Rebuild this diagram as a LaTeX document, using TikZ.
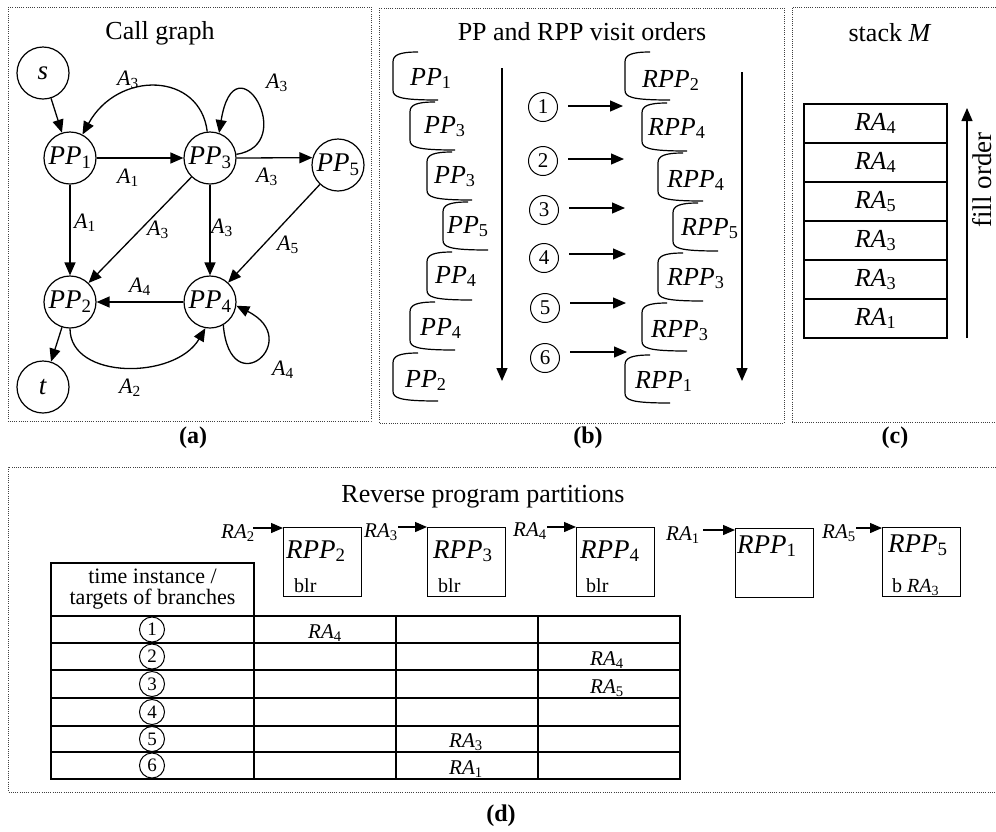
\documentclass[tikz,border=0pt]{standalone}
\usepackage{fontspec}
\setmainfont{Liberation Serif}
\usetikzlibrary{arrows.meta}
\newcommand\isub[2]{\textit{#1}\textsubscript{#2}}
\newcommand\fsz[1]{\fontsize{#1}{#1}\selectfont}
% a left bracket with curled ends, used for the visit orders
\newcommand\brkt[2]{\draw[brk] (#1+25,#2) .. controls (#1+6,#2) and (#1,#2+3) .. (#1,#2+10) -- (#1,#2+38) .. controls (#1,#2+45) and (#1+6,#2+48) .. (#1+45,#2+48);}
\begin{document}
\begin{tikzpicture}[x=1pt,y=-1pt,
  panelframe/.style={line width=0.8pt, dash pattern=on 0.9pt off 1.3pt, black!75},
  vtx/.style={circle, draw, line width=1.2pt, minimum size=52pt, inner sep=0pt, font=\fsz{27}},
  conn/.style={line width=1.3pt, -{Triangle[length=13pt,width=11pt]}},
  sconn/.style={line width=1.3pt, -{Triangle[length=12pt,width=10pt]}},
  elab/.style={font=\fsz{22}, inner sep=0pt},
  ttl/.style={font=\fsz{26}, inner sep=0pt},
  brk/.style={line width=1.2pt},
  blab/.style={font=\fsz{26}, anchor=base west, inner sep=0pt},
  cnum/.style={circle, draw, line width=1pt, minimum size=29pt, inner sep=0pt, font=\fsz{21}},
  tnum/.style={circle, draw, line width=1pt, minimum size=25pt, inner sep=0pt, font=\fsz{19}},
  stk/.style={draw, line width=1.2pt, minimum width=143pt, minimum height=39pt, inner sep=0pt, font=\fsz{26}},
  rpp/.style={draw, line width=1.2pt, minimum width=78pt, minimum height=69pt, inner sep=0pt, anchor=north west},
  rlab/.style={font=\fsz{27}, anchor=base west, inner sep=0pt},
  small/.style={font=\fsz{20}, anchor=base west, inner sep=0pt},
  ralab/.style={font=\fsz{21}, anchor=base east, inner sep=0pt},
  cell/.style={font=\fsz{21}, anchor=base, inner sep=0pt},
  plab/.style={font=\fsz{24}\bfseries, inner sep=0pt},
  tbl/.style={line width=1.6pt}]
\useasboundingbox (0,0) rectangle (996,831);

% ---------- panel frames ----------
\draw[panelframe] (8,7) rectangle (371,421);
\draw[panelframe] (379,8) rectangle (784,423);
\draw[panelframe] (998,7) -- (792,7) -- (792,422) -- (998,422);
\draw[panelframe] (998,467) -- (8,467) -- (8,792) -- (998,792);

\node[plab] (la) at (193,438) {(a)};
\node[plab] (lb) at (588,438) {(b)};
\node[plab] (lc) at (895,438) {(c)};
\node[plab] (ld) at (501,816) {(d)};

% ---------- (a) call graph ----------
\node[ttl] (ta) at (160,33) {Call graph};
\node[vtx] (s)   at (43,73)   {\textit{s}};
\node[vtx] (PP1) at (70,158)  {\isub{PP}{1}};
\node[vtx] (PP3) at (210,158) {\isub{PP}{3}};
\node[vtx] (PP5) at (338,165) {\isub{PP}{5}};
\node[vtx] (PP2) at (70,302)  {\isub{PP}{2}};
\node[vtx] (PP4) at (210,302) {\isub{PP}{4}};
\node[vtx] (t)   at (43,387)  {\textit{t}};

\draw[conn] (s) -- (PP1);
\draw[conn] (PP1) -- (PP3);
\draw[conn] (PP3.east) -- (PP5.164);
\draw[conn] (PP1) -- (PP2);
\draw[conn] (PP3) -- (PP2);
\draw[conn] (PP3) -- (PP4);
\draw[conn] (PP5) -- (PP4);
\draw[conn] (PP4) -- (PP2);
\draw[conn] (PP2) -- (t);
\draw[conn] (PP3.96) .. controls (200,72) and (118,70) .. (PP1.62);
\draw[conn] (PP3.8) .. controls (300,145) and (235,35) .. (PP3.70);
\draw[conn] (PP2.-90) .. controls (70,380) and (175,380) .. (PP4.-100);
\draw[conn] (PP4.-60) .. controls (230,405) and (305,340) .. (PP4.-8);

\node[elab] (e1) at (128,178) {\isub{A}{1}};
\node[elab] (e2) at (128,80)  {\isub{A}{3}};
\node[elab] (e3) at (277,83)  {\isub{A}{3}};
\node[elab] (e4) at (267,177) {\isub{A}{3}};
\node[elab] (e5) at (85,223)  {\isub{A}{1}};
\node[elab] (e6) at (158,230) {\isub{A}{3}};
\node[elab] (e7) at (222,228) {\isub{A}{3}};
\node[elab] (e8) at (288,245) {\isub{A}{5}};
\node[elab] (e9) at (140,287) {\isub{A}{4}};
\node[elab] (e10) at (130,388) {\isub{A}{2}};
\node[elab] (e11) at (283,370) {\isub{A}{4}};

% ---------- (b) visit orders ----------
\node[ttl] (tb) at (582,32) {PP and RPP visit orders};

\brkt{393}{52}  \brkt{410}{102} \brkt{427}{152} \brkt{443}{202}
\brkt{427}{252} \brkt{410}{302} \brkt{393}{353}
\node[blab] (p1) at (410,85)  {\isub{PP}{1}};
\node[blab] (p2) at (424,133) {\isub{PP}{3}};
\node[blab] (p3) at (434,183) {\isub{PP}{3}};
\node[blab] (p4) at (447,233) {\isub{PP}{5}};
\node[blab] (p5) at (435,283) {\isub{PP}{4}};
\node[blab] (p6) at (420,335) {\isub{PP}{4}};
\node[blab] (p7) at (405,387) {\isub{PP}{2}};

\brkt{625}{52}  \brkt{642}{103} \brkt{658}{153} \brkt{673}{203}
\brkt{658}{253} \brkt{642}{303} \brkt{625}{355}
\node[blab] (r1) at (642,87)  {\isub{RPP}{2}};
\node[blab] (r2) at (648,135) {\isub{RPP}{4}};
\node[blab] (r3) at (667,187) {\isub{RPP}{4}};
\node[blab] (r4) at (681,235) {\isub{RPP}{5}};
\node[blab] (r5) at (667,285) {\isub{RPP}{3}};
\node[blab] (r6) at (651,337) {\isub{RPP}{3}};
\node[blab] (r7) at (635,388) {\isub{RPP}{1}};

\coordinate (lvs) at (502,68);  \coordinate (lve) at (502,381);
\coordinate (rvs) at (742,72);  \coordinate (rve) at (742,381);
\draw[conn] (lvs) -- (lve);
\draw[conn] (rvs) -- (rve);

\node[cnum] (c1) at (543,107) {1};
\node[cnum] (c2) at (543,161) {2};
\node[cnum] (c3) at (544,210) {3};
\node[cnum] (c4) at (544,258) {4};
\node[cnum] (c5) at (545,308) {5};
\node[cnum] (c6) at (545,358) {6};
\coordinate (h1) at (623,106);
\coordinate (h2) at (624,159);
\coordinate (h3) at (625,208);
\coordinate (h4) at (626,254);
\coordinate (h5) at (626,303);
\coordinate (h6) at (627,352);
\foreach \i in {1,...,6}
  \draw[conn] ([xshift=10pt]c\i.east |- h\i) -- (h\i);

% ---------- (c) stack M ----------
\node[ttl] (tc) at (890,33) {stack \textit{M}};
\node[stk] (m6) at (875.5,123.5) {\isub{RA}{4}};
\node[stk] (m5) at (875.5,162.5) {\isub{RA}{4}};
\node[stk] (m4) at (875.5,201.5) {\isub{RA}{5}};
\node[stk] (m3) at (875.5,240.5) {\isub{RA}{3}};
\node[stk] (m2) at (875.5,279.5) {\isub{RA}{3}};
\node[stk] (m1) at (875.5,318.5) {\isub{RA}{1}};
\coordinate (fs) at (967,338);
\coordinate (fe) at (967,108);
\draw[conn] (fs) -- (fe);
\node[font=\fsz{27}, rotate=90, inner sep=0pt] (fo) at (982,180) {fill order};

% ---------- (d) reverse program partitions ----------
\node[ttl] (td) at (483,497) {Reverse program partitions};

\node[rpp] (b2) at (283,527) {};
\node[rpp] (b3) at (427,527) {};
\node[rpp] (b4) at (576,527) {};
\node[rpp] (b1) at (735,528) {};
\node[rpp] (b5) at (882,527) {};

\node[rlab] (q2) at (286,558) {\isub{RPP}{2}};
\node[rlab] (q3) at (433,558) {\isub{RPP}{3}};
\node[rlab] (q4) at (580,558) {\isub{RPP}{4}};
\node[rlab] (q1) at (737,553) {\isub{RPP}{1}};
\node[rlab] (q5) at (888,552) {\isub{RPP}{5}};
\node[small] (w2) at (294,592) {blr};
\node[small] (w3) at (438,592) {blr};
\node[small] (w4) at (586,592) {blr};
\node[small] (w5) at (892,592) {b \isub{RA}{3}};

\node[ralab] (a2) at (255,538) {\isub{RA}{2}};
\node[ralab] (a3) at (398,537) {\isub{RA}{3}};
\node[ralab] (a4) at (547,536) {\isub{RA}{4}};
\node[ralab] (a1) at (700,540) {\isub{RA}{1}};
\node[ralab] (a5) at (856,538) {\isub{RA}{5}};
\coordinate (s2) at (253,528);
\coordinate (s3) at (398,527);
\coordinate (s4) at (547,527);
\coordinate (s1) at (703,530);
\coordinate (s5) at (856,528);
\draw[sconn] (s2) -- (s2 -| b2.west);
\draw[sconn] (s3) -- (s3 -| b3.west);
\draw[sconn] (s4) -- (s4 -| b4.west);
\draw[sconn] (s1) -- (s1 -| b1.west);
\draw[sconn] (s5) -- (s5 -| b5.west);

% table of branch targets
\draw[tbl] (51,563) rectangle (254,616);
\draw[tbl] (51,616) rectangle (680,779);
\foreach \y in {643,670,698,726,752} \draw[tbl] (51,\y) -- (680,\y);
\foreach \x in {254,396,538} \draw[tbl] (\x,616) -- (\x,779);
\node[font=\fsz{22}, align=center, inner sep=0pt] (hd) at (152.5,589.5)
  {time instance /\\[-1pt]targets of branches};
\node[tnum] (n1) at (152,629.5) {1};
\node[tnum] (n2) at (152,656.5) {2};
\node[tnum] (n3) at (152,684)   {3};
\node[tnum] (n4) at (152,712)   {4};
\node[tnum] (n5) at (152,739)   {5};
\node[tnum] (n6) at (152,765.5) {6};
\node[cell] (x1) at (325,638) {\isub{RA}{4}};
\node[cell] (x2) at (607,665) {\isub{RA}{4}};
\node[cell] (x3) at (607,693) {\isub{RA}{5}};
\node[cell] (x5) at (466,747) {\isub{RA}{3}};
\node[cell] (x6) at (466,774) {\isub{RA}{1}};
\end{tikzpicture}
\end{document}
